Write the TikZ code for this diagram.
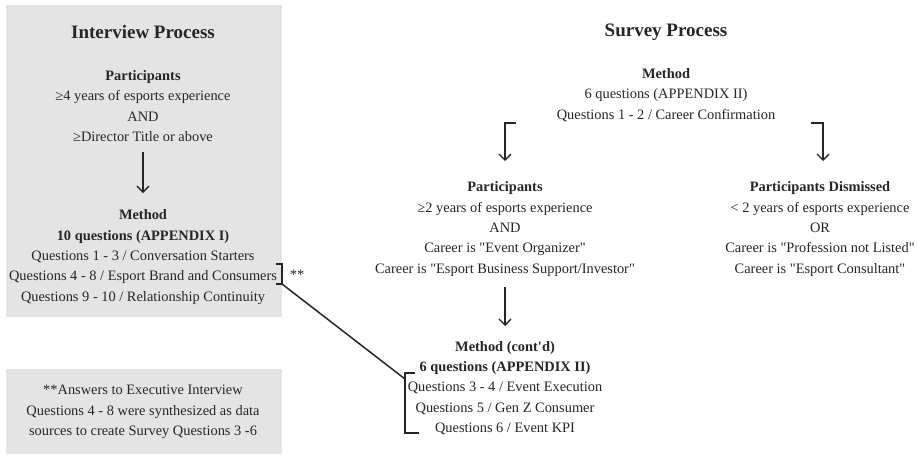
\documentclass[tikz,border=0pt]{standalone}
\usepackage{fontspec}
\setmainfont{Liberation Serif}[Ligatures=TeXOff]
\usetikzlibrary{arrows.meta}
\definecolor{boxgray}{HTML}{E4E4E4}
\definecolor{ink}{HTML}{262626}
\tikzset{
  txt/.style={align=center, font=\fontsize{14.4}{20.3}\selectfont, text=ink, inner sep=0pt},
  ttl/.style={font=\fontsize{19}{22}\selectfont\bfseries, text=ink, inner sep=0pt},
  arr/.style={draw=ink, line width=1.3pt, -{Straight Barb[length=6pt,width=12pt,line width=1.3pt]}},
  brk/.style={draw=ink, line width=1.5pt},
  panel/.style={fill=boxgray, draw=none},
}
\begin{document}
\begin{tikzpicture}[x=1pt,y=-1pt]
\useasboundingbox[fill=white] (0,0) rectangle (917,455);
% panels
\fill[panel] (6,5) rectangle (282,317);
\fill[panel] (6,369) rectangle (282,454);

% Interview process
\node[ttl] (ititle) at (143,32) {Interview Process};
\node[txt] (ipart) at (143,106) {\textbf{Participants}\\ ≥4 years of esports experience\\ AND\\ ≥Director Title or above};
\node[txt] (imeth) at (143,257) {\textbf{Method}\\ \textbf{10 questions (APPENDIX I)}\\ Questions 1 - 3 / Conversation Starters\\ Questions 4 - 8 / Esport Brand and Consumers\\ Questions 9 - 10 / Relationship Continuity};
\coordinate (ia1) at (143,152);
\coordinate (ia2) at (143,193);
\draw[arr] (ia1) -- (ia2);

% bracket 1 and stars
\draw[brk] (276,264) -- (282,264) -- (282,284) -- (276,284);
\node[txt] (stars) at (297,275) {**};
\coordinate (b1) at (282,284);
\coordinate (b2) at (405,379);
\draw[brk] (b1) -- (b2);

% note
\node[txt] (note) at (143,412) {**Answers to Executive Interview\\ Questions 4 - 8 were synthesized as data\\ sources to create Survey Questions 3 -6};

% Survey process
\node[ttl] (stitle) at (666,32) {Survey Process};
\node[txt] (smeth) at (666,95) {\textbf{Method}\\ 6 questions (APPENDIX II)\\ Questions 1 - 2 / Career Confirmation};
\coordinate (eL) at (516,123);
\coordinate (pL) at (505,161);
\coordinate (eR) at (811,123);
\coordinate (pR) at (823,161);
\draw[arr] (eL) -| (pL);
\draw[arr] (eR) -| (pR);

\node[txt] (spart) at (505,229) {\textbf{Participants}\\ ≥2 years of esports experience\\ AND\\ Career is "Event Organizer"\\ Career is "Esport Business Support/Investor"};
\node[txt] (sdis) at (820,229) {\textbf{Participants Dismissed}\\ < 2 years of esports experience\\ OR\\ Career is "Profession not Listed"\\ Career is "Esport Consultant"};

\coordinate (sa1) at (505,287);
\coordinate (sa2) at (505,326);
\draw[arr] (sa1) -- (sa2);

\node[txt] (smeth2) at (505,388) {\textbf{Method (cont'd)}\\ \textbf{6 questions (APPENDIX II)}\\ Questions 3 - 4 / Event Execution\\ Questions 5 / Gen Z Consumer\\ Questions 6 / Event KPI};

% bracket 2
\draw[brk] (415,373) -- (405,373) -- (405,433) -- (419,433);
\end{tikzpicture}
\end{document}
